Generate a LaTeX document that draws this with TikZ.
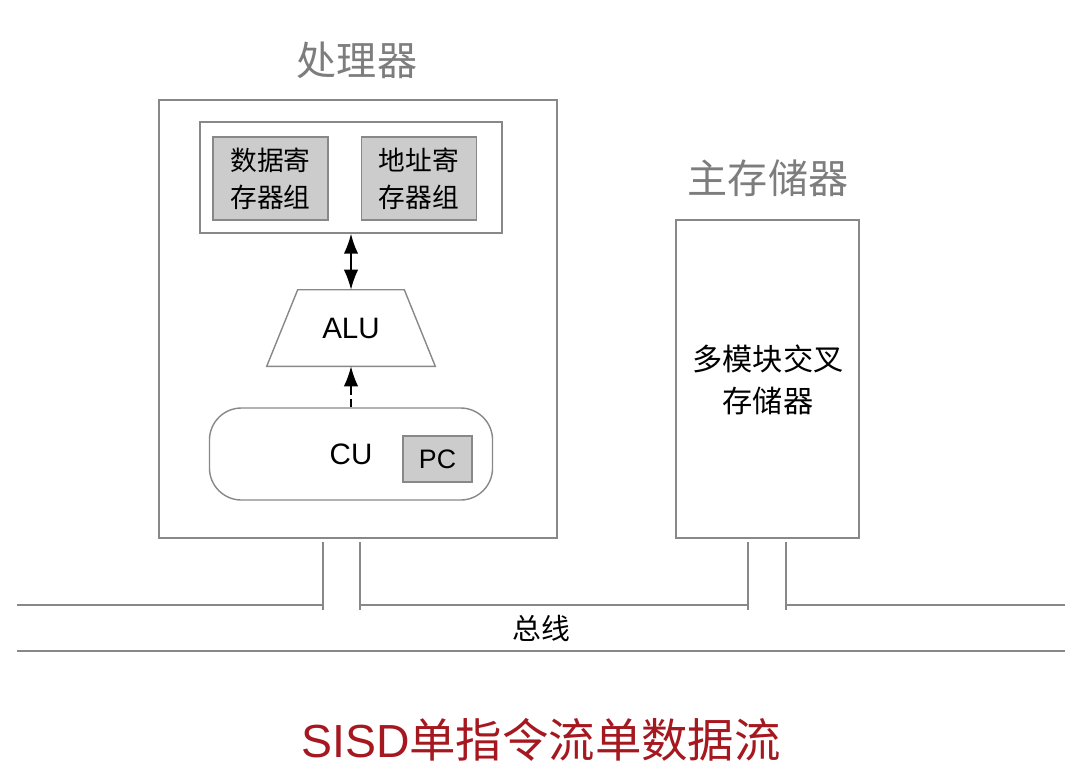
\documentclass[tikz,border=0pt]{standalone}
\usepackage{fontspec}
\setmainfont{Liberation Sans}
\newfontfamily\cjk{Noto Sans CJK SC}
\usetikzlibrary{positioning,calc,arrows.meta,shapes.geometric}
\definecolor{linegray}{RGB}{136,136,136}
\definecolor{boxgray}{RGB}{204,204,204}
\definecolor{titlegray}{RGB}{125,125,125}
\definecolor{captred}{RGB}{165,24,32}

\begin{document}
\begin{tikzpicture}[x=0.025cm,y=-0.025cm,
  frame/.style={draw=linegray,line width=1pt,inner sep=0pt},
  regbox/.style={frame,fill=boxgray,minimum width=2.875cm,minimum height=2.075cm,align=center,font=\cjk\fontsize{19}{26}\selectfont},
  title/.style={text=titlegray,font=\cjk\fontsize{28.5}{34}\selectfont},
  busline/.style={draw=linegray,line width=1.4pt},
  head/.tip={Latex[length=5mm,width=3.6mm]}]
\useasboundingbox (0,0) rectangle (1082,777);
% processor
\node[title] (cputitle) at (357,60) {处理器};
\node[frame,minimum width=9.95cm,minimum height=10.95cm] (cpu) at (358,319) {};
\node[frame,minimum width=7.55cm,minimum height=2.775cm] (regs) at (351,177.5) {};
\node[regbox] (dreg) at (270.5,178.5) {数据寄\\存器组};
\node[regbox] (areg) at (419,178.5) {地址寄\\存器组};
\node[inner sep=0pt,minimum width=2.65cm,minimum height=1.9cm,font=\fontsize{21}{25}\selectfont] (alu) at (351,328) {ALU};
\draw[frame] ($(alu.north west)$) -- ($(alu.north east)$) -- ($(alu.south east)+(31,0)$) -- ($(alu.south west)+(-31,0)$) -- cycle;
\node[frame,rounded corners=0.8cm,minimum width=7.075cm,minimum height=2.3cm,font=\fontsize{21}{25}\selectfont] (cu) at (351,454) {CU};
\node[frame,fill=boxgray,minimum width=1.725cm,minimum height=1.15cm,font=\fontsize{19}{23}\selectfont] (pc) at (437.5,459) {PC};
\draw[line width=1.1pt,head-head] (regs.south) -- (alu.north);
\draw[line width=1.1pt,-head,dash pattern=on 6pt off 3pt] (cu.north) -- (alu.south);
% main memory
\node[title] (memtitle) at (768,178) {主存储器};
\node[frame,minimum width=4.575cm,minimum height=7.95cm] (mem) at (767.5,379) {};
\node[align=center,font=\cjk\fontsize{21.5}{30}\selectfont] (memtext) at (768,380) {多模块交叉\\存储器};
% bus
\draw[busline] (17,605) -- (323,605);
\draw[busline] (360,605) -- (748,605);
\draw[busline] (786,605) -- (1065,605);
\draw[busline] (17,651) -- (1065,651);
\draw[frame] (323,542) -- (323,610);
\draw[frame] (360,542) -- (360,610);
\draw[frame] (748,542) -- (748,610);
\draw[frame] (786,542) -- (786,610);
\node[font=\cjk\fontsize{20.5}{24}\selectfont] (bus) at (541,628) {总线};
\node[text=captred,font=\fontsize{33}{38}\selectfont] (caption) at (541,740) {SISD{\cjk 单指令流单数据流}};
\end{tikzpicture}
\end{document}
